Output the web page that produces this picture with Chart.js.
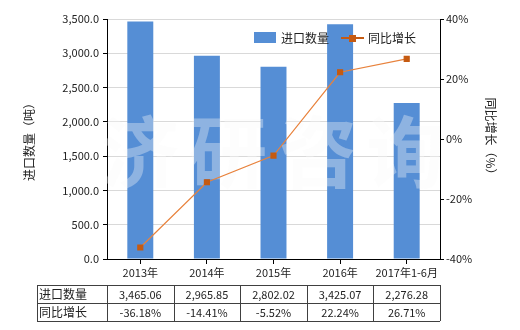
<!DOCTYPE html>
<html>
<head>
<meta charset="utf-8">
<script src="https://cdn.jsdelivr.net/npm/chart.js@4/dist/chart.umd.min.js"></script>
<style>
  html, body { margin: 0; padding: 0; background: #fff; }
  #wrap { width: 520px; height: 330px; }
</style>
</head>
<body>
<div id="wrap"><canvas id="myChart" width="520" height="330"></canvas></div>
<script>
const years = ['2013年', '2014年', '2015年', '2016年', '2017年1-6月'];
const importQty = [3465.06, 2965.85, 2802.02, 3425.07, 2276.28];
const yoyGrowth = [-36.18, -14.41, -5.52, 22.24, 26.71];
const qtyLabel = '进口数量';
const growthLabel = '同比增长';

const FONT = '"Noto Sans CJK SC", "Microsoft YaHei", sans-serif';
const TEXT = '#222';
const barColor = '#558ED5';
const lineColor = '#E8823C';
const markColor = '#C55A11';

const fmt = (v, d) => v.toLocaleString('en-US', { minimumFractionDigits: d, maximumFractionDigits: d });

// watermark over the bars, legend in the plot, data table under the axis
const extras = {
    id: 'extras',
    afterDatasetDraw(chart, args) {
        if (args.index !== 0) return;
        const c = chart.ctx;
        c.save();
        c.fillStyle = 'rgba(248,248,248,0.35)';
        c.font = 'bold 78px ' + FONT;
        c.textAlign = 'center';
        c.textBaseline = 'middle';
        const chars = ['济', '研', '咨', '询'];
        const xs = [140, 228, 318, 405];
        chars.forEach((ch, i) => c.fillText(ch, xs[i], 152));
        c.restore();
    },
    afterDraw(chart) {
        const c = chart.ctx;
        const x = chart.scales.x;
        c.save();
        // legend
        c.font = '12px ' + FONT;
        c.textBaseline = 'middle';
        c.fillStyle = barColor;
        c.fillRect(254, 32, 22, 11);
        c.fillStyle = TEXT;
        c.textAlign = 'left';
        c.fillText(qtyLabel, 281, 38);
        c.strokeStyle = markColor;
        c.lineWidth = 2;
        c.beginPath();
        c.moveTo(341, 38);
        c.lineTo(364, 38);
        c.stroke();
        c.fillStyle = markColor;
        c.fillRect(349, 35, 7, 7);
        c.fillStyle = TEXT;
        c.fillText(growthLabel, 368, 38);

        // table
        const half = (x.getPixelForValue(1) - x.getPixelForValue(0)) / 2;
        const left = 37;
        const colL = x.getPixelForValue(0) - half;
        const right = x.getPixelForValue(years.length - 1) + half;
        const rows = [285, 303, 321];
        c.strokeStyle = '#404040';
        c.lineWidth = 1;
        c.beginPath();
        rows.forEach(ry => { c.moveTo(left, ry + 0.5); c.lineTo(right, ry + 0.5); });
        c.moveTo(left + 0.5, rows[0]); c.lineTo(left + 0.5, rows[2]);
        c.moveTo(Math.round(colL) + 0.5, rows[0]); c.lineTo(Math.round(colL) + 0.5, rows[2]);
        years.forEach((y, i) => {
            const b = Math.round(x.getPixelForValue(i) + half) + 0.5;
            c.moveTo(b, rows[0]); c.lineTo(b, rows[2]);
        });
        c.stroke();

        c.font = '12px ' + FONT;
        c.fillStyle = TEXT;
        c.textAlign = 'left';
        c.fillText(qtyLabel, left + 2, (rows[0] + rows[1]) / 2);
        c.fillText(growthLabel, left + 2, (rows[1] + rows[2]) / 2);
        c.font = '11px ' + FONT;
        c.textAlign = 'center';
        years.forEach((y, i) => {
            const cx = x.getPixelForValue(i);
            c.fillText(fmt(importQty[i], 2), cx, (rows[0] + rows[1]) / 2 + 1);
            c.fillText(fmt(yoyGrowth[i], 2) + '%', cx, (rows[1] + rows[2]) / 2 + 1);
        });
        c.restore();
    }
};

const ctx = document.getElementById('myChart');
const myChart = new Chart(ctx, {
    type: 'bar',
    data: {
        labels: years,
        datasets: [{
                label: qtyLabel,
                data: importQty,
                backgroundColor: barColor,
                yAxisID: 'y',
                order: 2,
                categoryPercentage: 1,
                barPercentage: 0.39
            },
            {
                type: 'line',
                label: growthLabel,
                data: yoyGrowth,
                yAxisID: 'y1',
                borderColor: lineColor,
                borderWidth: 1.2,
                pointStyle: 'rect',
                pointRadius: 3.5,
                pointBackgroundColor: markColor,
                pointBorderColor: markColor,
                fill: false,
                tension: 0,
                order: 1
            },
        ]
    },
    plugins: [extras],
    options: {
        responsive: false,
        animation: false,
        layout: { padding: { top: 19, bottom: 49, left: 0, right: 0 } },
        plugins: {
            legend: { display: false },
            tooltip: { enabled: false }
        },
        scales: {
            x: {
                grid: { drawOnChartArea: false, offset: false, tickLength: 5, tickColor: '#000' },
                border: { color: '#000' },
                ticks: { color: TEXT, font: { family: FONT, size: 11 }, padding: 2, maxRotation: 0, autoSkip: false },
                afterFit: s => { s.height = 22; }
            },
            y: {
                position: 'left',
                min: 0,
                max: 3500,
                grid: { color: '#D9D9D9', tickColor: '#000', tickLength: 4 },
                border: { color: '#000' },
                ticks: {
                    stepSize: 500,
                    color: TEXT,
                    font: { family: FONT, size: 11 },
                    padding: 4,
                    callback: v => fmt(v, 1)
                },
                title: {
                    display: true,
                    text: '进口数量（吨）',
                    color: TEXT,
                    font: { family: FONT, size: 12 },
                    padding: { top: 22, bottom: 0 }
                },
                afterFit: s => { s.width = 107; }
            },
            y1: {
                position: 'right',
                min: -40,
                max: 40,
                grid: { drawOnChartArea: false, tickColor: '#000', tickLength: 4 },
                border: { color: '#000' },
                ticks: {
                    stepSize: 20,
                    color: TEXT,
                    font: { family: FONT, size: 11 },
                    padding: 2,
                    callback: v => v + '%'
                },
                title: {
                    display: true,
                    text: '同比增长（%）',
                    color: TEXT,
                    font: { family: FONT, size: 12 },
                    padding: { top: 22, bottom: 0 }
                },
                afterFit: s => { s.width = 80; }
            }
        }
    }
});
</script>
</body>
</html>
